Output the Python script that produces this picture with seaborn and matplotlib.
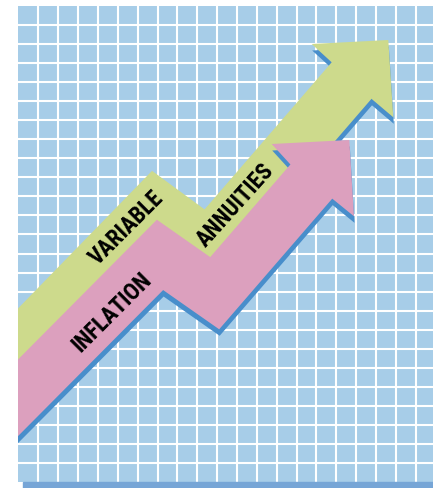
import matplotlib
matplotlib.use("Agg")
import matplotlib.pyplot as plt
from matplotlib.patches import Rectangle
from matplotlib import font_manager
import seaborn as sns
import numpy as np

# picture is in pixel units (x to the right, y downwards)
annuities_x = [-40, 155, 208.7, 362]
annuities_y = [407.7, 207.5, 246.9, 69.5]
annuities_head_x = [331.7, 311.7, 388.3, 393.3, 371.7]
annuities_head_y = [63.3, 45, 41, 118.3, 100]

inflation_x = [-40, 160, 214.7, 322]
inflation_y = [457.2, 255.9, 294.2, 170.2]
inflation_head_x = [290, 271.7, 349.3, 354, 332.7]
inflation_head_y = [165, 145, 141, 217.3, 200]

labels = ["VARIABLE", "ANNUITIES", "INFLATION"]
label_x = [126.5, 235, 112]
label_y = [228, 205, 312]
label_angle = [45, 48, 45]

panel_blue = "#a7cde8"
shadow_blue = "#488ecb"
strip_blue = "#76a5d6"
green = "#cdda8c"
pink = "#dca0be"

sns.set_theme(style="darkgrid", rc={"axes.facecolor": panel_blue,
                                    "grid.color": "white",
                                    "grid.linewidth": 1.5})

# narrow bold face if there is one, else plain DejaVu Sans
names = {f.name for f in font_manager.fontManager.ttflist}
narrow = [n for n in ["Liberation Sans Narrow", "Roboto Condensed", "DejaVu Sans Condensed",
                      "Open Sans Condensed"] if n in names]
font_family = narrow[:1] + ["DejaVu Sans"]

fig = plt.figure(figsize=(4.33, 4.89), dpi=100)
fig.patch.set_facecolor("white")
ax = fig.add_axes([18 / 433, (489 - 483.3) / 489, (433 - 18) / 433, (483.3 - 6.7) / 489])
ax.set_xlim(18, 433)
ax.set_ylim(483.3, 6.7)
ax.set_xticks(np.arange(38.3, 433, 19.87))
ax.set_yticks(np.arange(25.6, 483, 19.08))
ax.tick_params(length=0, labelbottom=False, labelleft=False)
for s in ax.spines.values():
    s.set_visible(False)

# blue strip under the panel
fig.patches.append(Rectangle((22.7 / 433, 0), 1, (489 - 483.3) / 489,
                             transform=fig.transFigure, color=strip_blue, zorder=0))

band = 54 * 0.72  # 54 px in points
off = (0.5, 6.5)


def arrow(xs, ys, hx, hy, color, z):
    sns.lineplot(x=np.array(xs) + off[0], y=np.array(ys) + off[1], ax=ax, sort=False,
                 estimator=None, color=shadow_blue, linewidth=band,
                 solid_joinstyle="miter", solid_capstyle="butt", zorder=z)
    ax.fill(np.array(hx) + off[0], np.array(hy) + off[1], color=shadow_blue, lw=0, zorder=z)
    sns.lineplot(x=xs, y=ys, ax=ax, sort=False, estimator=None, color=color,
                 linewidth=band, solid_joinstyle="miter", solid_capstyle="butt", zorder=z + 1)
    ax.fill(hx, hy, color=color, lw=0, zorder=z + 1)


arrow(annuities_x, annuities_y, annuities_head_x, annuities_head_y, green, 3)
arrow(inflation_x, inflation_y, inflation_head_x, inflation_head_y, pink, 5)

for t, x, y, a in zip(labels, label_x, label_y, label_angle):
    ax.text(x, y, t, rotation=a, rotation_mode="anchor", ha="center", va="center",
            fontsize=16.5 if narrow else 13, fontweight="bold", fontstretch="condensed",
            color="black", family=font_family, zorder=10)

ax.set_xlabel("")
ax.set_ylabel("")
fig.savefig("out.png", dpi=100)
